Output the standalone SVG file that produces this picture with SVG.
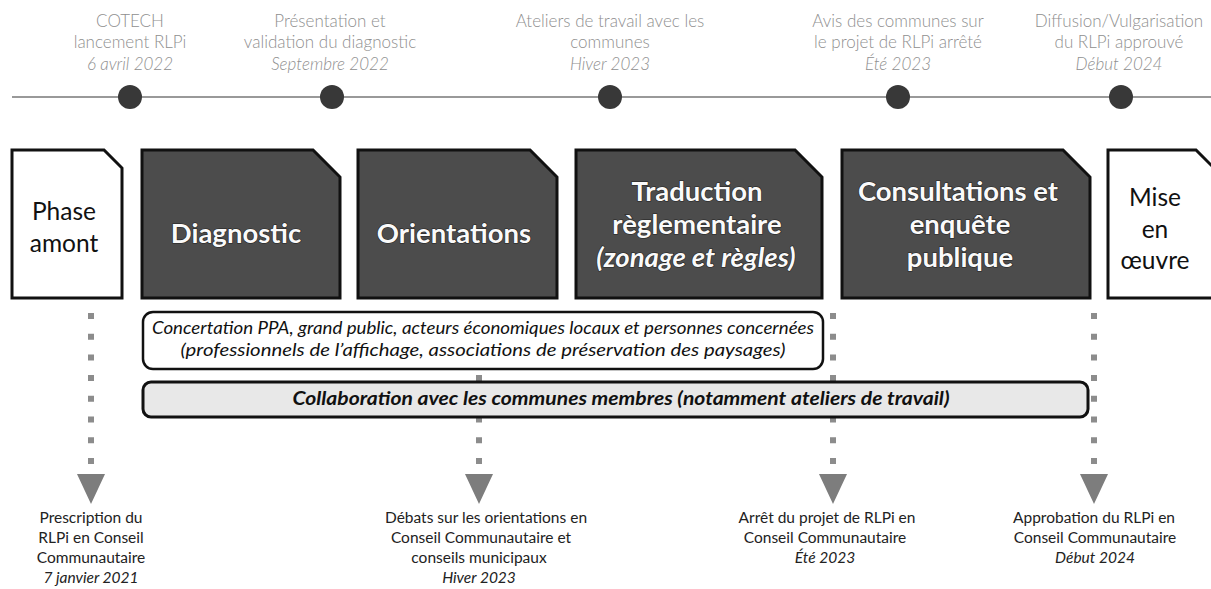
<svg xmlns="http://www.w3.org/2000/svg" width="1211" height="589" viewBox="0 0 1211 589">
<defs>
<style>
.top{font-family:Lato,"Liberation Sans",sans-serif;font-size:17px;font-weight:300;fill:#8f8f8f;text-anchor:middle}
.it{font-style:italic}
.dot{fill:#383838}
.dark{fill:#4c4c4c;stroke:#111;stroke-width:3}
.light{fill:#fff;stroke:#111;stroke-width:3}
.bt{font-family:Lato,"Liberation Sans",sans-serif;font-size:27.5px;font-weight:700;fill:#fafafa;text-anchor:middle;stroke:#222;stroke-width:1.2;paint-order:stroke}
.wt{font-family:Lato,"Liberation Sans",sans-serif;font-size:24.5px;fill:#111;text-anchor:middle}
.dash{stroke:#8c8c8c;stroke-width:6;stroke-dasharray:6 14.7;fill:none}
.tri{fill:#7d7d7d}
.bot{font-family:Lato,"Liberation Sans",sans-serif;font-size:15.5px;fill:#222;text-anchor:middle}
.bar{font-family:Lato,"Liberation Sans",sans-serif;font-size:18px;font-style:italic;fill:#111;text-anchor:middle}
</style>
</defs>
<rect width="1211" height="589" fill="#fff"/>
<g id="timeline">
<line x1="12" y1="97" x2="1211" y2="97" stroke="#999" stroke-width="2"/>
</g>
<g id="m1"><circle class="dot" cx="130" cy="97" r="12"/>
<text class="top" x="130" y="27">COTECH</text><text class="top" x="130" y="48">lancement RLPi</text><text class="top it" x="130" y="70">6 avril 2022</text></g>
<g id="m2"><circle class="dot" cx="332" cy="97" r="12"/>
<text class="top" x="330" y="27">Présentation et</text><text class="top" x="330" y="48">validation du diagnostic</text><text class="top it" x="330" y="70">Septembre 2022</text></g>
<g id="m3"><circle class="dot" cx="610" cy="97" r="12"/>
<text class="top" x="610" y="27">Ateliers de travail avec les</text><text class="top" x="610" y="48">communes</text><text class="top it" x="610" y="70">Hiver 2023</text></g>
<g id="m4"><circle class="dot" cx="898" cy="97" r="12"/>
<text class="top" x="898" y="27">Avis des communes sur</text><text class="top" x="898" y="48">le projet de RLPi arrêté</text><text class="top it" x="898" y="70">Été 2023</text></g>
<g id="m5"><circle class="dot" cx="1121" cy="97" r="12"/>
<text class="top" x="1119" y="27">Diffusion/Vulgarisation</text><text class="top" x="1119" y="48">du RLPi approuvé</text><text class="top it" x="1119" y="70">Début 2024</text></g>

<g id="connectors">
<line class="dash" x1="91" y1="313" x2="91" y2="465"/>
<line class="dash" x1="479" y1="313" x2="479" y2="465"/>
<line class="dash" x1="833" y1="313" x2="833" y2="465"/>
<line class="dash" x1="1094" y1="313" x2="1094" y2="465"/>
<polygon class="tri" points="77,474 105,474 91,504"/>
<polygon class="tri" points="465,474 493,474 479,504"/>
<polygon class="tri" points="819,474 847,474 833,504"/>
<polygon class="tri" points="1080,474 1108,474 1094,504"/>
</g>

<g id="phase-amont"><path class="light" d="M12,150 H104 L122,168 V298 H12 Z"/>
<text class="wt" x="64" y="220">Phase</text><text class="wt" x="64" y="252">amont</text></g>
<g id="diagnostic"><path class="dark" d="M142,150 H313 L340,177 V298 H142 Z"/>
<text class="bt" x="236" y="243">Diagnostic</text></g>
<g id="orientations"><path class="dark" d="M358,150 H530 L557,177 V298 H358 Z"/>
<text class="bt" x="454" y="243">Orientations</text></g>
<g id="traduction"><path class="dark" d="M576,150 H795 L822,177 V298 H576 Z"/>
<text class="bt" x="697" y="201">Traduction</text><text class="bt" x="697" y="234">règlementaire</text><text class="bt it" x="696" y="267">(zonage et règles)</text></g>
<g id="consultations"><path class="dark" d="M842,150 H1063 L1090,177 V298 H842 Z"/>
<text class="bt" x="958" y="201" font-size="28.5">Consultations et</text><text class="bt" x="960" y="234" font-size="28.5">enquête</text><text class="bt" x="960" y="267" font-size="28.5">publique</text></g>
<g id="mise-en-oeuvre"><path class="light" d="M1108,150 H1196 L1214,168 V298 H1108 Z"/>
<text class="wt" x="1155" y="206">Mise</text><text class="wt" x="1155" y="238">en</text><text class="wt" x="1155" y="269">œuvre</text></g>

<g id="concertation"><rect x="143" y="312" width="680" height="57" rx="10" fill="#fff" stroke="#111" stroke-width="2.5"/>
<text class="bar" x="483" y="334" textLength="662" lengthAdjust="spacingAndGlyphs">Concertation PPA, grand public, acteurs économiques locaux et personnes concernées</text>
<text class="bar" x="483" y="356" textLength="605" lengthAdjust="spacingAndGlyphs">(professionnels de l’affichage, associations de préservation des paysages)</text></g>
<g id="collaboration"><rect x="143" y="382" width="945" height="35" rx="8" fill="#e8e8e8" stroke="#111" stroke-width="3"/>
<text class="bar" x="621" y="405" font-weight="700" textLength="657" lengthAdjust="spacingAndGlyphs">Collaboration avec les communes membres (notamment ateliers de travail)</text></g>

<g id="b1"><text class="bot" x="91" y="523">Prescription du</text><text class="bot" x="91" y="543">RLPi en Conseil</text><text class="bot" x="91" y="563">Communautaire</text><text class="bot it" x="91" y="583">7 janvier 2021</text></g>
<g id="b2"><text class="bot" x="486" y="523">Débats sur les orientations en</text><text class="bot" x="481" y="543">Conseil Communautaire et</text><text class="bot" x="479" y="563">conseils municipaux</text><text class="bot it" x="479" y="583">Hiver 2023</text></g>
<g id="b3"><text class="bot" x="827" y="523">Arrêt du projet de RLPi en</text><text class="bot" x="825" y="543">Conseil Communautaire</text><text class="bot it" x="825" y="563">Été 2023</text></g>
<g id="b4"><text class="bot" x="1094" y="523">Approbation du RLPi en</text><text class="bot" x="1095" y="543">Conseil Communautaire</text><text class="bot it" x="1095" y="563">Début 2024</text></g>
</svg>
